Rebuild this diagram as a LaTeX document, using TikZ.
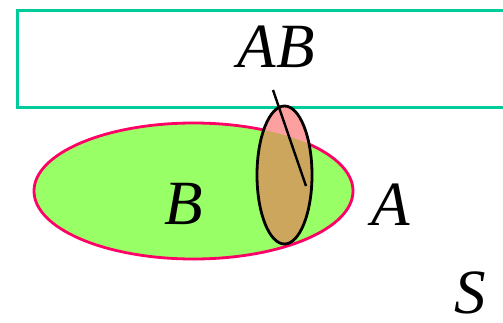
\documentclass[tikz,border=0pt]{standalone}
\usepackage{fontspec}
\setmainfont{Liberation Serif}
\usetikzlibrary{positioning}
\definecolor{rimteal}{HTML}{00CC99}
\definecolor{setgreen}{HTML}{99FF66}
\definecolor{rimred}{HTML}{FF0066}
\definecolor{setpink}{HTML}{FFA0A0}
\definecolor{setbrown}{HTML}{CCA65C}
\tikzset{lbl/.style={inner sep=0pt,font=\fontsize{63}{63}\selectfont\itshape},
 evbox/.style={draw=rimteal,line width=3pt},
 bigset/.style={draw=rimred,line width=2.8pt,fill=setgreen},
 smallset/.style={draw=black,line width=2.8pt},
 stroke/.style={draw=black,line width=2.4pt}}

\begin{document}
\begin{tikzpicture}[x=1pt,y=-1pt]
\useasboundingbox (0,0) rectangle (503,322);

\draw[evbox] (17.5,10.5) rectangle (515,107.5);
\node[lbl] (ab) at (276,47) {AB};

\coordinate (bc) at (193.5,191);
\coordinate (ac) at (284.5,175);
\filldraw[bigset] (bc) ellipse [x radius=159.5pt,y radius=68pt];

% the part of A inside B is shaded darker
\fill[setpink] (ac) ellipse [x radius=27.5pt,y radius=69pt];
\begin{scope}
\clip (bc) ellipse [x radius=159.5pt,y radius=68pt];
\fill[setbrown] (ac) ellipse [x radius=27.5pt,y radius=69pt];
\end{scope}
\draw[smallset] (ac) ellipse [x radius=27.5pt,y radius=69pt];

\coordinate (tip) at (273,90);
\coordinate (foot) at (306,186);
\draw[stroke] (tip) -- (foot);

\node[lbl] (b) at (184,204) {B};
\node[lbl] (a) at (391,205) {A};
\node[lbl] (s) at (470,293) {S};
\end{tikzpicture}
\end{document}
